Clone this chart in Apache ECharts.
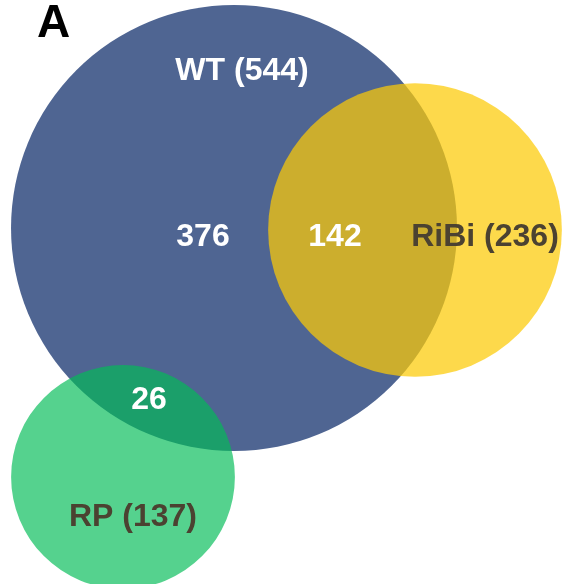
<!DOCTYPE html>
<html>
<head>
<meta charset="utf-8">
<script src="https://cdn.jsdelivr.net/npm/echarts@6/dist/echarts.min.js"></script>
<style>
html,body{margin:0;padding:0;background:#fff;}
#venn{width:562px;height:584px;}
</style>
</head>
<body>
<div id="venn"></div>
<script>
// sets: name, size, layout centre (chart units)
var setNames = ["WT", "RiBi", "RP"];
var setSizes = [544, 236, 137];
var setX = [234, 415, 123];
var setY = [228, 230, 477];
// region counts shown inside the circles
var regionCounts = [376, 142, 26];
var regionX = [203, 335, 149];
var regionY = [237, 237, 400];
// where the set titles sit
var titleX = [242, 485, 133];
var titleY = [71, 237, 517];

var setColors = ["#4f6592", "rgba(252,202,5,0.72)", "rgba(2,188,87,0.67)"];
var titleColors = ["#ffffff", "#4b4231", "#4b4231"];
var scale = 9.56; // radius per sqrt(count), area ~ count

var circleData = setSizes.map(function(s, i){
	return [setX[i], setY[i], Math.sqrt(s) * scale, i];
});
var titleData = setNames.map(function(n, i){
	return [titleX[i], titleY[i], n + " (" + setSizes[i] + ")", i];
});
var regionData = regionCounts.map(function(c, i){
	return [regionX[i], regionY[i], String(c)];
});

var chart = echarts.init(document.getElementById("venn"));
var option = {
	animation: false,
	title: {
		text: "A",
		left: 37,
		top: 1,
		padding: 0,
		textStyle: {fontFamily: "Liberation Sans", fontWeight: "bold", fontSize: 46, color: "#000"}
	},
	grid: {left: 0, right: 0, top: 0, bottom: 0},
	xAxis: {type: "value", min: 0, max: 562, show: false},
	yAxis: {type: "value", min: 0, max: 584, inverse: true, show: false},
	series: [
		{
			type: "custom",
			data: circleData,
			renderItem: function(params, api){
				var c = api.coord([api.value(0), api.value(1)]);
				var r = api.size([api.value(2), 0])[0];
				return {
					type: "circle",
					shape: {cx: c[0], cy: c[1], r: r},
					style: {fill: setColors[api.value(3)]}
				};
			}
		},
		{
			type: "custom",
			data: titleData,
			renderItem: function(params, api){
				var c = api.coord([api.value(0), api.value(1)]);
				var i = api.value(3);
				return {
					type: "text",
					style: {
						x: c[0], y: c[1],
						text: titleData[params.dataIndex][2],
						fill: titleColors[i],
						font: "bold 32px 'Liberation Sans', Arial, sans-serif",
						align: "center", verticalAlign: "middle"
					}
				};
			}
		},
		{
			type: "custom",
			data: regionData,
			renderItem: function(params, api){
				var c = api.coord([api.value(0), api.value(1)]);
				return {
					type: "text",
					style: {
						x: c[0], y: c[1],
						text: regionData[params.dataIndex][2],
						fill: "#ffffff",
						font: "bold 32px 'Liberation Sans', Arial, sans-serif",
						align: "center", verticalAlign: "middle"
					}
				};
			}
		}
	]
};
chart.setOption(option);
</script>
</body>
</html>
